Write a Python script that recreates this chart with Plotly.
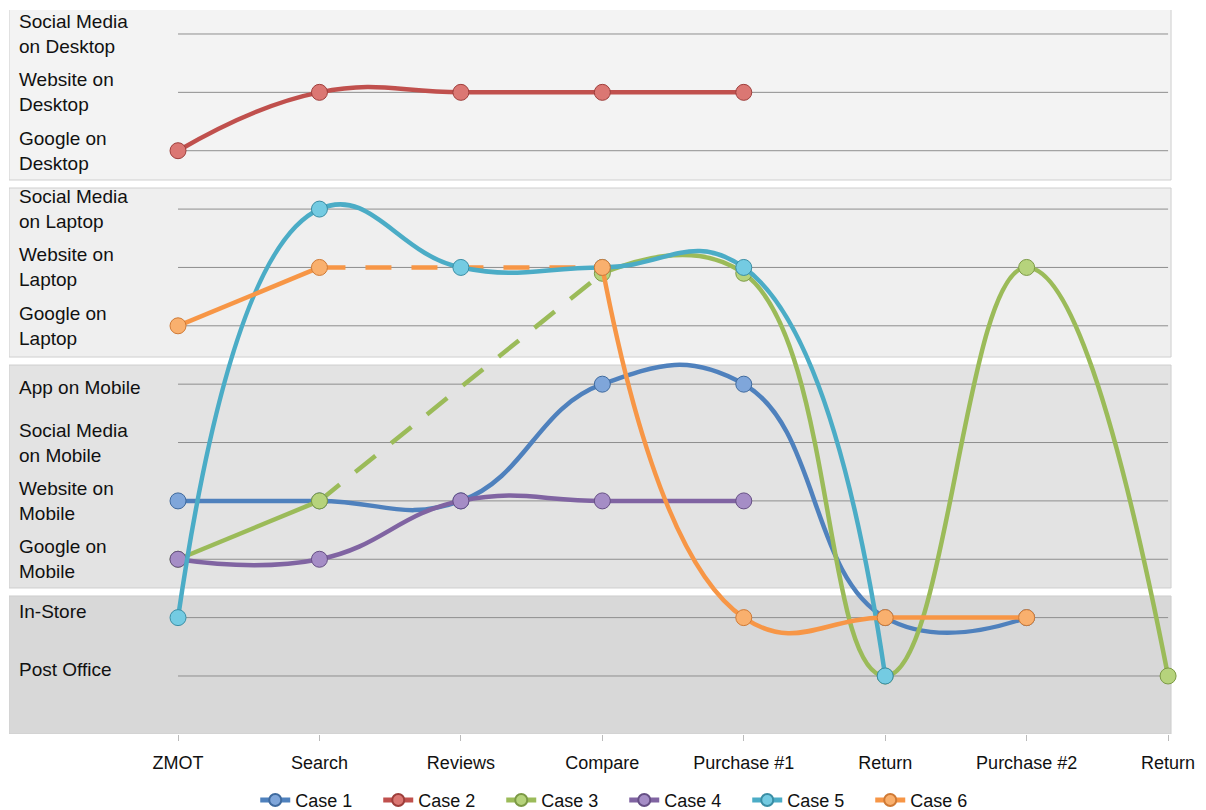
import plotly.graph_objects as go

# ---- data ----
stages = ["ZMOT", "Search", "Reviews", "Compare", "Purchase #1", "Return", "Purchase #2", "Return"]
channels = ["Post Office", "In-Store", "Google on<br>Mobile", "Website on<br>Mobile",
            "Social Media<br>on Mobile", "App on Mobile", "Google on<br>Laptop", "Website on<br>Laptop",
            "Social Media<br>on Laptop", "Google on<br>Desktop", "Website on<br>Desktop",
            "Social Media<br>on Desktop"]

case1 = [3, 3, 3, 5, 5, 1, 1, None]
case2 = [9, 10, 10, 10, 10, None, None, None]
case3 = [2, 3, None, 6.9, 6.9, 0, 7, 0]
case4 = [2, 2, 3, 3, 3, None, None, None]
case5 = [1, 8, 7, 7, 7, 0, None, None]
case6 = [6, 7, None, 7, 1, 1, 1, None]

# dashed gap connectors (Search -> Compare)
case3_gap = [None, 3, None, 6.9, None, None, None, None]
case6_gap = [None, 7, None, 7, None, None, None, None]

names = ["Case 1", "Case 2", "Case 3", "Case 4", "Case 5", "Case 6"]
series = [case1, case2, case3, case4, case5, case6]
colors = ["#4F81BD", "#C0504D", "#9BBB59", "#8064A2", "#4BACC6", "#F79646"]
fills = ["#7FA6DA", "#DB7773", "#B6D37C", "#A58DC6", "#74CBE2", "#F9B06E"]
edges = ["#3F6A9E", "#9E3E3B", "#7C9A45", "#664F85", "#3A8EA5", "#D07A35"]

xs = list(range(len(stages)))

fig = go.Figure()

# bands: (y0, y1, color)
bands = [(8.498, 11.42, "#F3F3F3"), (5.465, 8.361, "#EFEFEF"),
         (1.508, 5.328, "#E3E3E3"), (-0.994, 1.371, "#D8D8D8")]
for y0, y1, c in bands:
    fig.add_shape(type="rect", xref="x", yref="y", x0=-1.195, x1=7.021, y0=y0, y1=y1,
                  fillcolor=c, line=dict(color="#CFCFCF", width=1), layer="below")

for i in range(len(channels)):
    fig.add_shape(type="line", xref="x", yref="y", x0=0, x1=7, y0=i, y1=i,
                  line=dict(color="#8E8E8E", width=1), layer="below")

for gap, col in [(case3_gap, colors[2]), (case6_gap, colors[5])]:
    gx = [x for x, v in zip(xs, gap) if v is not None]
    gy = [v for v in gap if v is not None]
    fig.add_trace(go.Scatter(x=gx, y=gy, mode="lines", showlegend=False, hoverinfo="skip",
                             line=dict(color=col, width=4.5, dash="26px,20px"), cliponaxis=False))

for n, s, c, f, e in zip(names, series, colors, fills, edges):
    fig.add_trace(go.Scatter(
        x=xs, y=s, name=n, mode="lines+markers", connectgaps=False, cliponaxis=False,
        line=dict(color=c, width=4.5, shape="spline", smoothing=1.3),
        marker=dict(size=16, color=f, line=dict(color=e, width=1)),
    ))

label_shift = [6, 6, 0, 0, 0, -3, 0, 0, 0, 0, 0, 0]
for i, lab in enumerate(channels):
    fig.add_annotation(x=-1.135, y=i, xref="x", yref="y", text=lab, showarrow=False,
                       xanchor="left", yanchor="middle", align="left", yshift=label_shift[i],
                       font=dict(family="Liberation Sans, Arial", size=19, color="#111111"))

fig.update_layout(
    width=1206, height=810,
    margin=dict(l=9, r=16, t=10, b=76, autoexpand=False),
    paper_bgcolor="white", plot_bgcolor="white",
    font=dict(family="Liberation Sans, Arial", size=18, color="#111111"),
    xaxis=dict(range=[-1.195, 7.155], tickvals=xs, ticktext=stages, showgrid=False,
               zeroline=False, showline=False, ticks="outside", ticklen=6,
               tickcolor="#BBBBBB", ticklabelstandoff=6, fixedrange=True, automargin=False),
    yaxis=dict(range=[-0.994, 11.411], showgrid=False, zeroline=False, showticklabels=False,
               showline=False, fixedrange=True),
    legend=dict(orientation="h", x=0.2085, xanchor="left", yref="container", y=0.012,
                yanchor="middle", entrywidth=78, font=dict(size=18),
                bgcolor="rgba(0,0,0,0)", itemsizing="constant"),
    showlegend=True,
)

fig.write_html("out.html")
